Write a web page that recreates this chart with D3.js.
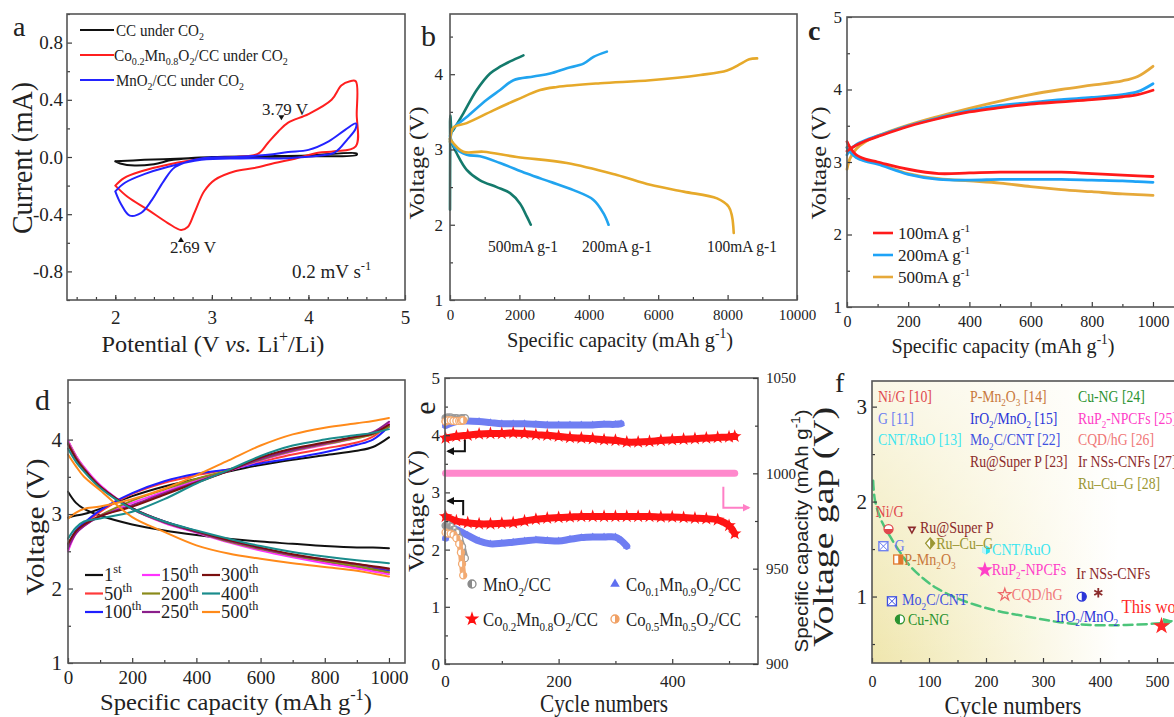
<!DOCTYPE html>
<html>
<head>
<meta charset="utf-8">
<script src="https://cdn.jsdelivr.net/npm/d3@7"></script>
<style>
  body { margin: 0; background: #fff; }
  svg { display: block; }
  text { font-family: "Liberation Serif", "Times New Roman", serif; fill: #222; }
</style>
</head>
<body>
<svg id="fig" width="1174" height="717"></svg>
<script>
// ---------------- data ----------------
// (a) cyclic voltammetry loops, [potential V, current mA]
var cvCC = [[2.0,-0.03],[2.3,-0.02],[2.7,-0.01],[3.0,0],[3.5,0.005],[4.0,0.01],[4.5,0.025],[4.5,0.015],[4.0,0.005],[3.5,0],[3.0,-0.003],[2.6,-0.02],[2.4,-0.05],[2.2,-0.06],[2.05,-0.045],[2.0,-0.03]];
var cvCoMn = [[2.0,-0.2],[2.09,-0.147],[2.27,-0.1],[2.54,-0.054],[2.89,-0.014],[3.24,0],[3.48,0.023],[3.58,0.098],[3.69,0.18],[3.79,0.24],[4.0,0.3],[4.24,0.4],[4.34,0.5],[4.43,0.53],[4.49,0.53],[4.5,0.3],[4.49,0.075],[4.27,0.04],[4.1,0.03],[3.86,-0.012],[3.65,-0.042],[3.44,-0.077],[3.24,-0.1],[3.03,-0.16],[2.92,-0.24],[2.82,-0.39],[2.75,-0.49],[2.68,-0.51],[2.54,-0.46],[2.34,-0.37],[2.13,-0.28],[2.0,-0.2]];
var cvMnO2 = [[2.0,-0.24],[2.06,-0.33],[2.15,-0.41],[2.27,-0.39],[2.38,-0.3],[2.5,-0.17],[2.62,-0.07],[2.89,-0.01],[3.24,0],[3.58,0.015],[3.79,0.035],[4.0,0.05],[4.21,0.11],[4.38,0.19],[4.49,0.235],[4.49,0.2],[4.4,0.12],[4.27,0.03],[4.1,0.008],[3.79,-0.008],[3.3,-0.01],[2.89,-0.02],[2.54,-0.07],[2.3,-0.12],[2.1,-0.18],[2.0,-0.24]];
var cvNames = ["CC under CO_{2}", "Co_{0.2}Mn_{0.8}O_{2}/CC under CO_{2}", "MnO_{2}/CC under CO_{2}"];

// (b) full discharge / charge, [capacity mAh/g, voltage V]
var bLabels = ["500mA g-1", "200mA g-1", "100mA g-1"];
var b500Charge = [[0,2.2],[5,3.0],[10,3.45],[60,3.24],[150,3.3],[385,3.48],[770,3.79],[1154,4.01],[1443,4.1],[1732,4.17],[2116,4.25]];
var b500Dis = [[0,3.14],[192,2.95],[481,2.73],[866,2.59],[1347,2.5],[1732,2.42],[2020,2.28],[2212,2.11],[2328,2.0]];
var b200Charge = [[0,3.1],[96,3.28],[481,3.43],[1059,3.66],[1443,3.79],[1828,3.92],[2405,3.97],[2886,4.01],[3367,4.08],[3848,4.14],[4136,4.23],[4521,4.3]];
var b200Dis = [[0,3.18],[150,3.02],[481,2.93],[866,2.91],[1443,2.82],[2213,2.68],[2886,2.57],[3559,2.46],[4136,2.33],[4425,2.15],[4569,2.0]];
var b100Charge = [[0,3.1],[96,3.29],[481,3.35],[1251,3.52],[1925,3.66],[2597,3.79],[3079,3.83],[4329,3.88],[5772,3.92],[7215,3.99],[7985,4.05],[8384,4.14],[8625,4.2],[8851,4.21]];
var b100Dis = [[0,3.14],[385,2.97],[962,2.97],[1925,2.9],[3367,2.82],[4810,2.66],[5772,2.53],[6734,2.44],[7696,2.35],[8032,2.24],[8128,2.11],[8177,1.89]];

// (c) rate test at 1000 mAh/g
var cLabels = ["100mA g^{-1}", "200mA g^{-1}", "500mA g^{-1}"];
var cCap = [0,10,30,60,100,200,300,400,500,600,700,800,900,950,1000];
var cCharge = [
  [3.15,3.18,3.23,3.29,3.35,3.49,3.6,3.69,3.75,3.8,3.83,3.86,3.9,3.93,3.99],
  [3.1,3.17,3.24,3.3,3.36,3.5,3.61,3.71,3.78,3.82,3.86,3.89,3.93,3.97,4.08],
  [2.9,3.05,3.18,3.28,3.36,3.51,3.63,3.74,3.84,3.93,4.0,4.06,4.12,4.18,4.32]
];
var cDischarge = [
  [3.28,3.2,3.1,3.04,3.0,2.9,2.84,2.85,2.86,2.86,2.86,2.84,2.82,2.81,2.8],
  [3.2,3.14,3.06,3.01,2.97,2.83,2.76,2.75,2.76,2.76,2.76,2.75,2.74,2.73,2.72],
  [3.2,3.14,3.07,3.02,2.98,2.84,2.77,2.74,2.71,2.66,2.62,2.59,2.56,2.55,2.54]
];

// (d) selected cycles
var dCycles = ["1^{st}","50^{th}","100^{th}","150^{th}","200^{th}","250^{th}","300^{th}","400^{th}","500^{th}"];
var dCap = [0,25,50,100,200,300,400,500,600,700,800,900,950,1000];
var dCharge = [
  [2.95,2.98,3.0,3.07,3.24,3.37,3.47,3.57,3.66,3.73,3.79,3.85,3.9,4.03],
  [2.52,2.75,2.86,3.03,3.27,3.42,3.52,3.6,3.7,3.8,3.88,3.96,4.04,4.21],
  [2.58,2.78,2.88,3.05,3.28,3.44,3.54,3.6,3.68,3.75,3.83,3.93,4.0,4.18],
  [2.5,2.74,2.84,2.98,3.15,3.3,3.45,3.58,3.72,3.84,3.93,4.02,4.08,4.22],
  [2.56,2.76,2.85,2.98,3.18,3.33,3.47,3.59,3.73,3.85,3.94,4.02,4.07,4.17],
  [2.54,2.74,2.84,2.97,3.12,3.28,3.43,3.58,3.74,3.86,3.95,4.04,4.1,4.24],
  [2.6,2.77,2.86,2.97,3.1,3.26,3.42,3.58,3.76,3.88,3.96,4.04,4.08,4.2],
  [2.67,2.82,2.9,2.94,3.03,3.2,3.41,3.59,3.78,3.92,4.0,4.06,4.09,4.14],
  [2.94,3.02,3.07,3.1,3.2,3.34,3.52,3.72,3.92,4.07,4.16,4.22,4.25,4.29]
];
var dDischarge = [
  [3.3,3.15,3.07,2.98,2.86,2.78,2.72,2.67,2.63,2.6,2.57,2.55,2.55,2.54],
  [3.98,3.78,3.62,3.38,3.07,2.89,2.76,2.63,2.52,2.43,2.36,2.29,2.25,2.21],
  [3.97,3.77,3.62,3.38,3.08,2.9,2.77,2.64,2.53,2.44,2.37,2.3,2.27,2.24],
  [3.99,3.78,3.63,3.39,3.07,2.88,2.75,2.62,2.51,2.42,2.34,2.27,2.23,2.19],
  [3.96,3.76,3.61,3.37,3.07,2.89,2.76,2.63,2.53,2.44,2.37,2.3,2.26,2.22],
  [3.95,3.75,3.6,3.37,3.07,2.89,2.76,2.64,2.54,2.45,2.39,2.33,2.29,2.26],
  [3.94,3.74,3.6,3.37,3.08,2.9,2.77,2.65,2.55,2.46,2.39,2.33,2.3,2.27],
  [3.88,3.7,3.57,3.35,3.07,2.9,2.78,2.67,2.57,2.49,2.43,2.38,2.36,2.34],
  [3.8,3.64,3.5,3.32,2.96,2.76,2.58,2.47,2.4,2.34,2.29,2.24,2.2,2.16]
];

// (e) cycling: terminal voltages and capacity
var eNames = ["MnO_{2}/CC", "Co_{0.1}Mn_{0.9}O_{2}/CC", "Co_{0.2}Mn_{0.8}O_{2}/CC", "Co_{0.5}Mn_{0.5}O_{2}/CC"];
var eRedCyc = [1,20,40,60,80,100,120,140,160,180,200,220,240,260,280,300,320,340,360,380,400,420,440,460,480,500,510];
var eRedCharge = [3.95,3.98,4.0,4.02,4.03,4.03,4.04,4.03,4.01,4.0,3.98,3.96,3.95,3.94,3.92,3.91,3.88,3.88,3.89,3.91,3.92,3.93,3.94,3.95,3.96,3.97,3.98];
var eRedDis = [2.58,2.5,2.47,2.45,2.45,2.46,2.47,2.5,2.53,2.55,2.56,2.57,2.58,2.58,2.58,2.58,2.58,2.58,2.58,2.57,2.57,2.56,2.55,2.54,2.52,2.42,2.28];
var eBlueChCyc = [1,20,40,60,80,100,120,140,160,180,200,220,240,260,280,300,310];
var eBlueCharge = [4.17,4.24,4.25,4.24,4.22,4.2,4.2,4.2,4.19,4.18,4.18,4.18,4.18,4.18,4.19,4.19,4.2];
var eBlueDisCyc = [1,10,20,40,60,80,100,120,140,160,180,200,220,240,260,280,300,310,320];
var eBlueDis = [2.2,2.38,2.35,2.25,2.15,2.1,2.11,2.13,2.15,2.17,2.16,2.15,2.18,2.21,2.22,2.22,2.22,2.16,2.06];
var eGrayCyc = [1,5,10,15,20,25,30,35];
var eGrayCharge = [4.3,4.31,4.31,4.3,4.3,4.29,4.3,4.3];
var eGrayDis = [2.42,2.43,2.4,2.35,2.3,2.2,2.05,1.85];
var eOrangeCyc = [1,5,10,15,20,25,28,30,32];
var eOrangeCharge = [4.24,4.26,4.26,4.25,4.25,4.25,4.25,4.26,4.26];
var eOrangeDis = [2.3,2.28,2.28,2.26,2.2,2.1,1.95,1.75,1.55];
var eCapCyc = [1,100,200,300,400,510];
var eCap = [1000,1000,1000,1000,1000,1000];

// (f) comparison with literature
var fNames = ["Ni/G","G","CNT/RuO","P-Mn_{2}O_{3}","IrO_{2}/MnO_{2}","Mo_{2}C/CNT","Ru@Super P","Cu-NG","RuP_{2}-NPCFs","CQD/hG","Ir NSs-CNFs","Ru\u2013Cu\u2013G","This work"];
var fRefs = [10,11,13,14,15,22,23,24,25,26,27,28,null];
var fCycles = [29,20,200,46,368,35,70,49,198,233,397,102,508];
var fGaps = [1.71,1.53,1.49,1.39,1.0,0.95,1.70,0.76,1.28,1.02,1.04,1.56,0.69];
var fTrendCyc = [2,5,15,32,50,67,90,113,154,212,271,329,387,446,505,525];
var fTrendGap = [2.22,2.02,1.82,1.63,1.46,1.32,1.19,1.09,0.97,0.86,0.79,0.73,0.70,0.70,0.72,0.74];

// ---------------- helpers ----------------
var svg = d3.select("#fig");
svg.append("rect").attr("width", 1174).attr("height", 717).attr("fill", "#fff");
var defs = svg.append("defs");

function arrowHead(id, color)
{
  defs.append("marker").attr("id", id)
      .attr("viewBox", "0 0 10 10").attr("refX", 8).attr("refY", 5)
      .attr("markerWidth", 4).attr("markerHeight", 4)
      .attr("orient", "auto")
      .append("path").attr("d", "M0,0L10,5L0,10Z").attr("fill", color);
}
arrowHead("arBlack", "#111");
arrowHead("arPink", "#ff7fc6");
arrowHead("arGreen", "#4cc47a");

// text with _{sub} ^{sup} ~{italic}
function rich(t, str, size)
{
  var re = /([_^~])\{([^}]*)\}|([^_^~]+)/g, m, cur = 0;
  while ((m = re.exec(str)) !== null)
  {
    var s = t.append("tspan"), target = 0;
    if (m[3] !== undefined) { s.text(m[3]); }
    else
    {
      s.text(m[2]);
      if (m[1] == "_") { target = 0.28 * size; s.style("font-size", (0.66 * size) + "px"); }
      else if (m[1] == "^") { target = -0.42 * size; s.style("font-size", (0.66 * size) + "px"); }
      else { s.style("font-style", "italic"); }
    }
    if (target - cur != 0) s.attr("dy", target - cur);
    cur = target;
  }
}

function label(g, x, y, str, o)
{
  o = o || {};
  var size = o.size || 18, rot = o.rot || 0;
  var t = g.append("text")
      .attr("text-anchor", o.anchor || "start")
      .style("font-size", size + "px")
      .style("fill", o.color || "#222");
  if (o.family) t.style("font-family", o.family);
  if (o.weight) t.style("font-weight", o.weight);
  rich(t, str, size);
  var sx = o.sx || 1;
  if (o.len) { sx = o.len / t.node().getBBox().width; }
  t.attr("transform", "translate(" + x + "," + y + ") rotate(" + rot + ") scale(" + sx + ",1)");
  return t;
}

function styleAxis(a, fs)
{
  a.select(".domain").remove();
  a.selectAll("line").attr("stroke", "#3a3a3a").attr("stroke-width", 1.2);
  a.selectAll("text").style("font-size", fs + "px").attr("fill", "#222");
  return a;
}

function panel(p)
{
  var g = svg.append("g");
  var x = d3.scaleLinear().domain(p.xd).range([p.l, p.r]);
  var y = d3.scaleLinear().domain(p.yd).range([p.b, p.t]);
  return { g: g, x: x, y: y, p: p };
}

function axes(P)
{
  var g = P.g, p = P.p, x = P.x, y = P.y;
  var fmtX = p.xf || function(d) { return d; };
  var fmtY = p.yf || function(d) { return d; };
  styleAxis(g.append("g").attr("transform", "translate(0," + p.b + ")")
      .call(d3.axisBottom(x).tickValues(p.xm).tickSize(-3).tickFormat("")), p.xfs);
  styleAxis(g.append("g").attr("transform", "translate(0," + p.b + ")")
      .call(d3.axisBottom(x).tickValues(p.xt).tickSize(-5).tickPadding(p.xpad).tickFormat(fmtX)), p.xfs);
  styleAxis(g.append("g").attr("transform", "translate(" + p.l + ",0)")
      .call(d3.axisLeft(y).tickValues(p.ym).tickSize(-3).tickFormat("")), p.yfs);
  styleAxis(g.append("g").attr("transform", "translate(" + p.l + ",0)")
      .call(d3.axisLeft(y).tickValues(p.yt).tickSize(-5).tickPadding(p.ypad).tickFormat(fmtY)), p.yfs);
  g.append("rect").attr("x", p.l).attr("y", p.t)
      .attr("width", p.r - p.l).attr("height", p.b - p.t)
      .attr("fill", "none").attr("stroke", "#555").attr("stroke-width", 1.6);
}

function curve(P, pts, color, w)
{
  var line = d3.line().x(function(d) { return P.x(d[0]); }).y(function(d) { return P.y(d[1]); })
      .curve(d3.curveCatmullRom.alpha(0.5));
  return P.g.append("path").datum(pts).attr("d", line)
      .attr("fill", "none").attr("stroke", color).attr("stroke-width", w || 2)
      .attr("stroke-linejoin", "round").attr("stroke-linecap", "round");
}

// marker glyphs for panels e and f
function glyph(g, shape, cx, cy, color, r)
{
  var s = g.append("g").attr("transform", "translate(" + cx + "," + cy + ")");
  if (shape == "halfBottom" || shape == "halfLeft" || shape == "halfRight")
  {
    s.append("circle").attr("r", r).attr("fill", "#fff").attr("stroke", color).attr("stroke-width", 1.3);
    var d = shape == "halfBottom" ? "M" + (-r) + ",0A" + r + "," + r + " 0 0 0 " + r + ",0Z"
          : shape == "halfRight" ? "M0," + (-r) + "A" + r + "," + r + " 0 0 1 0," + r + "Z"
          : "M0," + (-r) + "A" + r + "," + r + " 0 0 0 0," + r + "Z";
    s.append("path").attr("d", d).attr("fill", color);
  }
  else if (shape == "boxX")
  {
    s.append("rect").attr("x", -r).attr("y", -r).attr("width", 2 * r).attr("height", 2 * r)
        .attr("fill", "#fff").attr("stroke", color).attr("stroke-width", 1.3);
    s.append("path").attr("d", "M" + (-r) + "," + (-r) + "L" + r + "," + r + "M" + r + "," + (-r) + "L" + (-r) + "," + r)
        .attr("stroke", color).attr("stroke-width", 1);
  }
  else if (shape == "boxHalf")
  {
    s.append("rect").attr("x", -r).attr("y", -r).attr("width", 2 * r).attr("height", 2 * r)
        .attr("fill", "#fff").attr("stroke", color).attr("stroke-width", 1.3);
    s.append("rect").attr("x", 0).attr("y", -r).attr("width", r).attr("height", 2 * r).attr("fill", color);
  }
  else if (shape == "diamondHalf")
  {
    s.append("path").attr("d", "M0," + (-r * 1.2) + "L" + r + ",0L0," + (r * 1.2) + "L" + (-r) + ",0Z")
        .attr("fill", "#fff").attr("stroke", color).attr("stroke-width", 1.3);
    s.append("path").attr("d", "M0," + (-r * 1.2) + "L" + r + ",0L0," + (r * 1.2) + "Z").attr("fill", color);
  }
  else if (shape == "triDown")
  {
    s.append("path").attr("d", "M" + (-r) + "," + (-r * 0.8) + "L" + r + "," + (-r * 0.8) + "L0," + (r) + "Z")
        .attr("fill", color);
    s.append("path").attr("d", "M" + (-r * 0.35) + "," + (-r * 0.4) + "L" + (r * 0.35) + "," + (-r * 0.4) + "L0," + (r * 0.3) + "Z")
        .attr("fill", "#fff");
  }
  else if (shape == "hex")
  {
    var hp = d3.range(6).map(function(i) { var a = Math.PI / 3 * i + Math.PI / 6; return [r * Math.cos(a), r * Math.sin(a)]; });
    s.append("path").attr("d", "M" + hp.join("L") + "Z").attr("fill", color);
    s.append("path").attr("d", "M0," + (-r) + "L" + (-r * 0.86) + "," + (-r * 0.5) + "L" + (-r * 0.86) + "," + (r * 0.5) + "L0," + r + "Z").attr("fill", "#fff").attr("opacity", 0.7);
  }
  else if (shape == "star" || shape == "starOpen")
  {
    s.append("path").attr("d", d3.symbol(d3.symbolStar, r * r * 2.2)())
        .attr("fill", shape == "star" ? color : "none").attr("stroke", color).attr("stroke-width", 1.3);
  }
  else if (shape == "asterisk")
  {
    s.append("path").attr("d", d3.symbol(d3.symbolAsterisk, r * r * 3)())
        .attr("fill", "none").attr("stroke", color).attr("stroke-width", 1.8);
  }
  else if (shape == "tri")
  {
    s.append("path").attr("d", d3.symbol(d3.symbolTriangle, r * r * 2.5)()).attr("fill", color);
  }
  return s;
}

// ---------------- panel a ----------------
var A = panel({ l: 67, t: 14, r: 405, b: 300, xd: [1.5, 5], yd: [-1, 1],
  xt: [2, 3, 4, 5], xm: d3.range(1.6, 5, 0.2), yt: [-0.8, -0.4, 0, 0.4, 0.8], ym: [-1, -0.6, -0.2, 0.2, 0.6, 1],
  xfs: 19, yfs: 19, xpad: 11, ypad: 4,
  yf: function(d) { return d.toFixed(1); } });
var cvColors = ["#111", "#ff1f1f", "#2323ff"];
curve(A, cvCC, cvColors[0], 2);
curve(A, cvCoMn, cvColors[1], 2);
curve(A, cvMnO2, cvColors[2], 2);
axes(A);
[30, 55, 80].forEach(function(yy, i) {
  A.g.append("line").attr("x1", 80).attr("x2", 114).attr("y1", yy).attr("y2", yy)
      .attr("stroke", cvColors[i]).attr("stroke-width", 2.2);
});
label(A.g, 116, 36, cvNames[0], { size: 16, len: 88 });
label(A.g, 114, 61, cvNames[1], { size: 16, len: 174 });
label(A.g, 116, 86, cvNames[2], { size: 16, len: 128 });
label(A.g, 262, 115, "3.79 V", { size: 17 });
A.g.append("path").attr("d", "M" + (A.x(3.72) - 3) + "," + (A.y(0.25) - 6) + "h6l-3,5z").attr("fill", "#111");
label(A.g, 170, 253, "2.69 V", { size: 17 });
A.g.append("path").attr("d", "M" + (A.x(2.68) - 3) + "," + (A.y(-0.56) + 5) + "h6l-3,-5z").attr("fill", "#111");
label(A.g, 292, 278, "0.2 mV s^{-1}", { size: 19 });
label(A.g, 13, 36, "a", { size: 28 });
label(A.g, 32, 158, "Current (mA)", { size: 30, rot: -90, anchor: "middle", len: 152 });
label(A.g, 213, 352, "Potential (V ~{vs.} Li^{+}/Li)", { size: 24, anchor: "middle", len: 223 });

// ---------------- panel b ----------------
var B = panel({ l: 450, t: 14, r: 797, b: 300, xd: [0, 10000], yd: [1, 4.8],
  xt: [0, 2000, 4000, 6000, 8000, 10000], xm: [1000, 3000, 5000, 7000, 9000], yt: [1, 2, 3, 4], ym: [1.5, 2.5, 3.5, 4.5],
  xfs: 15, yfs: 17, xpad: 9, ypad: 7 });
var bColors = ["#147a6c", "#21a4ef", "#e6a92a"];
curve(B, b500Charge, bColors[0], 2.6); curve(B, b500Dis, bColors[0], 2.6);
curve(B, b200Charge, bColors[1], 2.6); curve(B, b200Dis, bColors[1], 2.6);
curve(B, b100Charge, bColors[2], 2.6); curve(B, b100Dis, bColors[2], 2.6);
axes(B);
label(B.g, 488, 252, bLabels[0], { size: 16, len: 70 });
label(B.g, 582, 252, bLabels[1], { size: 16, len: 70 });
label(B.g, 707, 252, bLabels[2], { size: 16, len: 70 });
label(B.g, 421, 46, "b", { size: 30 });
label(B.g, 424, 163, "Voltage (V)", { size: 22, rot: -90, anchor: "middle", len: 113 });
label(B.g, 620, 347, "Specific capacity (mAh g^{-1})", { size: 22, anchor: "middle", len: 226 });

// ---------------- panel c ----------------
var C = panel({ l: 847, t: 17, r: 1189.7, b: 307, xd: [0, 1120], yd: [1, 5],
  xt: [0, 200, 400, 600, 800, 1000], xm: [100, 300, 500, 700, 900], yt: [1, 2, 3, 4, 5], ym: [1.5, 2.5, 3.5, 4.5],
  xfs: 16, yfs: 17, xpad: 9, ypad: 5 });
var cColors = ["#ff1a1a", "#1ea3f7", "#e6a93a"];
[2, 1, 0].forEach(function(i) {
  curve(C, cCap.map(function(c, k) { return [c, cCharge[i][k]]; }), cColors[i], 2.8);
  curve(C, cCap.map(function(c, k) { return [c, cDischarge[i][k]]; }), cColors[i], 2.8);
});
axes(C);
cLabels.forEach(function(s, i) {
  var yy = 233 + i * 22;
  C.g.append("line").attr("x1", 873).attr("x2", 893).attr("y1", yy).attr("y2", yy)
      .attr("stroke", cColors[i]).attr("stroke-width", 2.6);
  label(C.g, 898, yy + 6, s, { size: 17 });
});
label(C.g, 808, 40, "c", { size: 28, weight: "bold" });
label(C.g, 826, 163, "Voltage (V)", { size: 22, rot: -90, anchor: "middle", len: 113 });
label(C.g, 1003, 353, "Specific capacity (mAh g^{-1})", { size: 22, anchor: "middle", len: 223 });

// ---------------- panel d ----------------
var D = panel({ l: 68, t: 380, r: 405, b: 663, xd: [0, 1050], yd: [1, 4.8],
  xt: [0, 200, 400, 600, 800, 1000], xm: [100, 300, 500, 700, 900], yt: [1, 2, 3, 4], ym: [1.5, 2.5, 3.5, 4.5],
  xfs: 19, yfs: 21, xpad: 8, ypad: 6 });
var dColors = ["#111111", "#ff3a3a", "#1f1fff", "#ff33ff", "#8a8a1a", "#8b1f8b", "#7a0f0f", "#1a8c8c", "#ff8a1a"];
d3.range(dCycles.length).forEach(function(i) {
  curve(D, dCap.map(function(c, k) { return [c, dCharge[i][k]]; }), dColors[i], 2);
  curve(D, dCap.map(function(c, k) { return [c, dDischarge[i][k]]; }), dColors[i], 2);
});
axes(D);
dCycles.forEach(function(s, i) {
  var col = Math.floor(i / 3), row = i % 3;
  var lx = [85, 142, 202][col], yy = 575 + row * 18.5;
  D.g.append("line").attr("x1", lx).attr("x2", lx + 18).attr("y1", yy).attr("y2", yy)
      .attr("stroke", dColors[i]).attr("stroke-width", 2.2);
  label(D.g, lx + 19, yy + 6, s, { size: 18.5 });
});
label(D.g, 35, 410, "d", { size: 30 });
label(D.g, 44, 527, "Voltage (V)", { size: 26, rot: -90, anchor: "middle", len: 137 });
label(D.g, 236, 710, "Specific capacity (mAh g^{-1})", { size: 24, anchor: "middle", len: 272 });

// ---------------- panel e ----------------
var E = panel({ l: 445, t: 378, r: 758, b: 664, xd: [0, 551], yd: [0, 5],
  xt: [0, 200, 400], xm: [100, 300, 500], yt: [0, 1, 2, 3, 4, 5], ym: [0.5, 1.5, 2.5, 3.5, 4.5],
  xfs: 17, yfs: 17, xpad: 11, ypad: 5 });
var yCap = d3.scaleLinear().domain([900, 1050]).range([664, 378]);
var eColors = ["#8a8a8a", "#5f6ff0", "#ff1010", "#f0a064"];
var eShapes = ["halfLeft", "tri", "star", "halfRight"];
function band(cyc, vals, color, yScale, w, shape, r)
{
  var pts = cyc.map(function(c, k) { return [c, vals[k]]; });
  var line = d3.line().x(function(d) { return E.x(d[0]); }).y(function(d) { return yScale(d[1]); })
      .curve(d3.curveCatmullRom.alpha(0.5));
  E.g.append("path").datum(pts).attr("d", line).attr("fill", "none")
      .attr("stroke", color).attr("stroke-width", w).attr("stroke-linecap", "round").attr("stroke-linejoin", "round");
  if (shape) pts.forEach(function(d) { glyph(E.g, shape, E.x(d[0]), yScale(d[1]), color, r); });
}
band(eCapCyc, eCap, "#ff88cc", yCap, 7);
band(eBlueChCyc, eBlueCharge, "#6f7ef2", E.y, 7, "tri", 3.2);
band(eBlueDisCyc, eBlueDis, "#6f7ef2", E.y, 7, "tri", 3.2);
band(eRedCyc, eRedCharge, "#ff1414", E.y, 7, "star", 3.6);
band(eRedCyc, eRedDis, "#ff1414", E.y, 7, "star", 3.6);
band(eGrayCyc, eGrayCharge, "#9a9a9a", E.y, 7, "halfLeft", 3.5);
band(eGrayCyc, eGrayDis, "#9a9a9a", E.y, 7, "halfLeft", 3.5);
band(eOrangeCyc, eOrangeCharge, "#f2aa72", E.y, 8, "halfRight", 3.5);
band(eOrangeCyc, eOrangeDis, "#f2aa72", E.y, 6, "halfRight", 3.5);
axes(E);
styleAxis(E.g.append("g").attr("transform", "translate(758,0)")
    .call(d3.axisRight(yCap).tickValues([925, 975, 1025]).tickSize(-3).tickFormat("")), 15);
styleAxis(E.g.append("g").attr("transform", "translate(758,0)")
    .call(d3.axisRight(yCap).tickValues([900, 950, 1000, 1050]).tickSize(-5).tickPadding(8)
    .tickFormat(function(d) { return d; })), 15);
// arrows pointing at the matching axis
E.g.append("path").attr("d", "M" + E.x(35) + "," + E.y(3.92) + "V" + E.y(3.72) + "H" + E.x(5))
    .attr("fill", "none").attr("stroke", "#111").attr("stroke-width", 2).attr("marker-end", "url(#arBlack)");
E.g.append("path").attr("d", "M" + E.x(32) + "," + E.y(2.6) + "V" + E.y(2.85) + "H" + E.x(5))
    .attr("fill", "none").attr("stroke", "#111").attr("stroke-width", 2).attr("marker-end", "url(#arBlack)");
E.g.append("path").attr("d", "M" + E.x(490) + "," + yCap(993) + "V" + yCap(982) + "H" + E.x(535))
    .attr("fill", "none").attr("stroke", "#ff7fc6").attr("stroke-width", 2).attr("marker-end", "url(#arPink)");
eNames.forEach(function(s, i) {
  var order = [0, 2, 1, 3][i];
  var col = Math.floor(order / 2), row = order % 2;
  var mx = [472, 615][col], yy = [584, 619][row];
  glyph(E.g, eShapes[i], mx, yy, eColors[i], 4);
  label(E.g, mx + 11, yy + 7, s, { size: 19, len: i == 0 ? 68 : 115 });
});
label(E.g, 435, 408, "e", { size: 30, rot: -90, anchor: "middle" });
label(E.g, 424, 511, "Voltage (V)", { size: 24, rot: -90, anchor: "middle", len: 122 });
label(E.g, 604, 712, "Cycle numbers", { size: 26, anchor: "middle", len: 128 });
label(E.g, 808, 531, "Specific capacity (mAh g^{-1})", { size: 19, rot: -90, anchor: "middle", len: 243, family: "Liberation Sans, Arial, sans-serif" });

// ---------------- panel f ----------------
var F = panel({ l: 872, t: 381, r: 1179.8, b: 663, xd: [0, 540], yd: [0.3, 3.27],
  xt: [0, 100, 200, 300, 400, 500], xm: [50, 150, 250, 350, 450], yt: [1, 2, 3], ym: [0.5, 1.5, 2.5],
  xfs: 16, yfs: 21, xpad: 13, ypad: 5 });
var gx = defs.append("linearGradient").attr("id", "fBgX").attr("x1", 0).attr("x2", 1).attr("y1", 0).attr("y2", 0);
gx.append("stop").attr("offset", "0%").attr("stop-color", "#efe6ad");
gx.append("stop").attr("offset", "40%").attr("stop-color", "#f8f3d6");
gx.append("stop").attr("offset", "80%").attr("stop-color", "#ffffff");
var gy = defs.append("linearGradient").attr("id", "fBgY").attr("x1", 0).attr("x2", 0).attr("y1", 0).attr("y2", 1);
gy.append("stop").attr("offset", "0%").attr("stop-color", "#fff").attr("stop-opacity", 0.7);
gy.append("stop").attr("offset", "100%").attr("stop-color", "#fff").attr("stop-opacity", 0);
F.g.append("rect").attr("x", 872).attr("y", 381).attr("width", 308).attr("height", 282).attr("fill", "url(#fBgX)");
F.g.append("rect").attr("x", 872).attr("y", 381).attr("width", 308).attr("height", 282).attr("fill", "url(#fBgY)");
curve(F, fTrendCyc.map(function(c, k) { return [c, fTrendGap[k]]; }), "#4cc47a", 2.5)
    .attr("stroke-dasharray", "9,5").attr("marker-end", "url(#arGreen)");
var fStyle = {
  "Ni/G": ["#e0474c", "halfBottom", -13, -12],
  "G": ["#6a7cf0", "boxX", 11, 5],
  "CNT/RuO": ["#30e2ee", "hex", 6, 5],
  "P-Mn_{2}O_{3}": ["#e0782c", "boxHalf", 6, 5],
  "IrO_{2}/MnO_{2}": ["#2b35d8", "halfRight", -26, 25],
  "Mo_{2}C/CNT": ["#3f51e0", "boxX", 10, 4],
  "Ru@Super P": ["#8c2b2b", "triDown", 8, 3],
  "Cu-NG": ["#2a922f", "halfLeft", 8, 6],
  "RuP_{2}-NPCFs": ["#ff3fc8", "star", 7, 5],
  "CQD/hG": ["#ee6a6a", "starOpen", 7, 5],
  "Ir NSs-CNFs": ["#8c2b2b", "asterisk", -22, -14],
  "Ru\u2013Cu\u2013G": ["#9a9632", "diamondHalf", 6, 6],
  "This work": ["#ff2a2a", "star", -40, -13]
};
var fText = { "Ni/G": "#e0474c", "P-Mn_{2}O_{3}": "#c8783c", "CNT/RuO": "#3de6f0", "CQD/hG": "#f07878" };
fNames.forEach(function(n, i) {
  var st = fStyle[n], px = F.x(fCycles[i]), py = F.y(fGaps[i]);
  glyph(F.g, st[1], px, py, st[0], n == "This work" ? 5 : 4.5);
  label(F.g, px + st[2], py + st[3], n, { size: n == "This work" ? 19 : 16, color: fText[n] || st[0], sx: 0.88 });
});
// literature list, three columns in order of reference number
var fCols = [[0, 3, 878], [3, 7, 970], [7, 12, 1078]];
fCols.forEach(function(c) {
  for (var i = c[0]; i < c[1]; i++)
  {
    var n = fNames[i];
    label(F.g, c[2], 402 + (i - c[0]) * 21.7, n + "  [" + fRefs[i] + "]", { size: 16, color: fText[n] || fStyle[n][0], sx: 0.86 });
  }
});
axes(F);
label(F.g, 835, 392, "f", { size: 28 });
label(F.g, 833, 527, "Voltage gap (V)", { size: 30, rot: -90, anchor: "middle", len: 240 });
label(F.g, 1013, 714, "Cycle numbers", { size: 26, anchor: "middle", len: 137 });
</script>
</body>
</html>
